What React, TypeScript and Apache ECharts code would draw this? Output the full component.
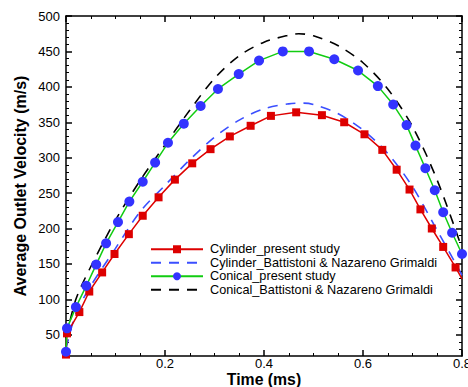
import React, { useEffect, useRef } from "react";
import * as echarts from "echarts";

// Cylinder – present study (red squares)
const cylPresentT = [0, 0.002, 0.027, 0.047, 0.073, 0.098, 0.127, 0.155, 0.187, 0.22, 0.255, 0.292, 0.331, 0.373, 0.414, 0.465, 0.517, 0.562, 0.603, 0.639, 0.668, 0.694, 0.716, 0.739, 0.762, 0.787, 0.8];
const cylPresentV = [22, 52, 82, 111, 138, 164, 192, 218, 244, 269, 292, 312, 330, 345, 359, 364, 360, 350, 333, 311, 283, 255, 227, 200, 174, 145, 129];

// Cylinder – Battistoni & Nazareno Grimaldi (blue dashed)
const cylRefT = [0, 0.02, 0.05, 0.1, 0.15, 0.2, 0.25, 0.3, 0.35, 0.4, 0.45, 0.48, 0.5, 0.55, 0.6, 0.65, 0.7, 0.75, 0.775, 0.8];
const cylRefV = [30, 80, 119, 172, 224, 261, 297, 329, 353, 369, 376, 377, 375, 362, 339, 306, 259, 197, 166, 134];

// Conical – present study (green line, blue circles)
const conPresentT = [0, 0.002, 0.02, 0.041, 0.061, 0.081, 0.105, 0.128, 0.155, 0.18, 0.206, 0.238, 0.272, 0.307, 0.349, 0.39, 0.438, 0.491, 0.542, 0.59, 0.63, 0.661, 0.688, 0.706, 0.726, 0.745, 0.762, 0.78, 0.8];
const conPresentV = [26, 59, 89, 119, 149, 179, 209, 238, 266, 293, 321, 348, 373, 397, 418, 437, 450, 450, 439, 423, 401, 375, 346, 317, 285, 254, 223, 194, 164];

// Conical – Battistoni & Nazareno Grimaldi (black dashed)
const conRefT = [0, 0.02, 0.05, 0.1, 0.15, 0.2, 0.25, 0.3, 0.35, 0.4, 0.45, 0.47, 0.5, 0.55, 0.6, 0.65, 0.7, 0.75, 0.8];
const conRefV = [45, 100, 146, 212, 268, 318, 367, 412, 444, 463, 473, 475, 472, 458, 434, 397, 344, 268, 172];

const seriesNames = [
  "Cylinder_present study",
  "Cylinder_Battistoni & Nazareno Grimaldi",
  "Conical_present study",
  "Conical_Battistoni & Nazareno Grimaldi",
];

const yMajor = [50, 100, 150, 200, 250, 300, 350, 400, 450, 500];
const yMinor = [30, 40, 60, 70, 80, 90, 110, 120, 130, 140, 160, 170, 180, 190, 210, 220, 230, 240, 260, 270, 280, 290, 310, 320, 330, 340, 360, 370, 380, 390, 410, 420, 430, 440, 460, 470, 480, 490];

const FONT = "'Liberation Sans', Arial, Helvetica, sans-serif";

const pairs = (t: number[], v: number[]) => t.map((x, i) => [x, v[i]]);

export default function App() {
  const ref = useRef<HTMLDivElement>(null);
  useEffect(() => {
    if (!ref.current) return;
    const chart = echarts.init(ref.current, null, { renderer: "svg" });
    const axisLine = { show: true, lineStyle: { color: "#000", width: 1.5 } };
    const xBase = {
      type: "value" as const,
      min: 0,
      max: 0.8,
      interval: 0.2,
      splitLine: { show: false },
      axisLine,
      axisTick: { show: true, inside: true, length: 6, lineStyle: { color: "#000", width: 1.5 } },
      minorTick: { show: true, splitNumber: 4, length: 3, lineStyle: { color: "#000", width: 1 } },
      minorSplitLine: { show: false },
    };
    const yBase = {
      type: "value" as const,
      min: 20,
      max: 500,
      splitLine: { show: false },
    };
    chart.setOption({
      animation: false,
      backgroundColor: "#fff",
      grid: { left: 66, right: 6, top: 16, bottom: 31, containLabel: false, outerBoundsMode: "none" },
      legend: {
        data: [
          { name: seriesNames[0] },
          { name: seriesNames[1], itemStyle: { opacity: 0 } },
          { name: seriesNames[2] },
          { name: seriesNames[3], itemStyle: { opacity: 0 } },
        ],
        orient: "vertical",
        left: 150,
        top: 242.5,
        itemWidth: 52,
        itemHeight: 10,
        itemGap: 0,
        textStyle: { fontFamily: FONT, fontSize: 12.7, lineHeight: 13.5, color: "#000", padding: [0, 0, 0, 2] },
        padding: 0,
      },
      xAxis: [
        {
          ...xBase,
          position: "bottom",
          name: "Time (ms)",
          nameLocation: "middle",
          nameGap: 15.5,
          nameMoveOverlap: false,
          nameTextStyle: { fontFamily: FONT, fontSize: 15.8, lineHeight: 15, fontWeight: "bold", color: "#000" },
          axisLabel: { show: true, showMinLabel: false, fontFamily: FONT, fontSize: 13, lineHeight: 11, color: "#000", margin: 2 },
        },
        {
          ...xBase,
          position: "top",
          axisLabel: { show: false },
        },
      ],
      yAxis: [
        {
          ...yBase,
          position: "left",
          name: "Average Outlet Velocity (m/s)",
          nameLocation: "middle",
          nameGap: 38,
          nameMoveOverlap: false,
          nameTextStyle: { fontFamily: FONT, fontSize: 16, fontWeight: "bold", color: "#000" },
          axisLine,
          axisTick: { show: true, inside: true, length: 6, customValues: yMajor, lineStyle: { color: "#000", width: 1.5 } },
          axisLabel: { show: true, customValues: yMajor, fontFamily: FONT, fontSize: 13, color: "#000", margin: 6 },
        },
        {
          ...yBase,
          position: "left",
          axisLine: { show: false },
          axisTick: { show: true, inside: true, length: 3, customValues: yMinor, lineStyle: { color: "#000", width: 1 } },
          axisLabel: { show: false },
        },
        {
          ...yBase,
          position: "right",
          axisLine,
          axisTick: { show: true, inside: true, length: 6, customValues: yMajor, lineStyle: { color: "#000", width: 1.5 } },
          axisLabel: { show: false },
        },
        {
          ...yBase,
          position: "right",
          axisLine: { show: false },
          axisTick: { show: true, inside: true, length: 3, customValues: yMinor, lineStyle: { color: "#000", width: 1 } },
          axisLabel: { show: false },
        },
      ],
      series: [
        {
          name: seriesNames[1],
          type: "line",
          data: pairs(cylRefT, cylRefV),
          smooth: 0.3,
          showSymbol: false,
          symbol: "none",
          lineStyle: { color: "#3b4fff", width: 1.6, type: [10, 8] },
          itemStyle: { color: "#3b4fff" },
          z: 2,
        },
        {
          name: seriesNames[3],
          type: "line",
          data: pairs(conRefT, conRefV),
          smooth: 0.3,
          showSymbol: false,
          symbol: "none",
          lineStyle: { color: "#000", width: 1.6, type: [10, 8] },
          itemStyle: { color: "#000" },
          z: 2,
        },
        {
          name: seriesNames[0],
          type: "line",
          data: pairs(cylPresentT, cylPresentV).map((p, i) =>
            i === cylPresentT.length - 1 ? { value: p, symbol: "none" } : p
          ),
          symbol: "rect",
          symbolSize: 8,
          lineStyle: { color: "#dd0000", width: 1.5 },
          itemStyle: { color: "#dd0000" },
          z: 3,
        },
        {
          name: seriesNames[2],
          type: "line",
          data: pairs(conPresentT, conPresentV),
          symbol: "circle",
          symbolSize: 10,
          lineStyle: { color: "#11cc11", width: 1.5 },
          itemStyle: { color: "#3333ff" },
          z: 3,
        },
      ],
    });
    return () => chart.dispose();
  }, []);
  return (
    <div
      ref={ref}
      style={{ position: "absolute", left: 0, top: 0, width: 468, height: 387, overflow: "hidden" }}
    />
  );
}
